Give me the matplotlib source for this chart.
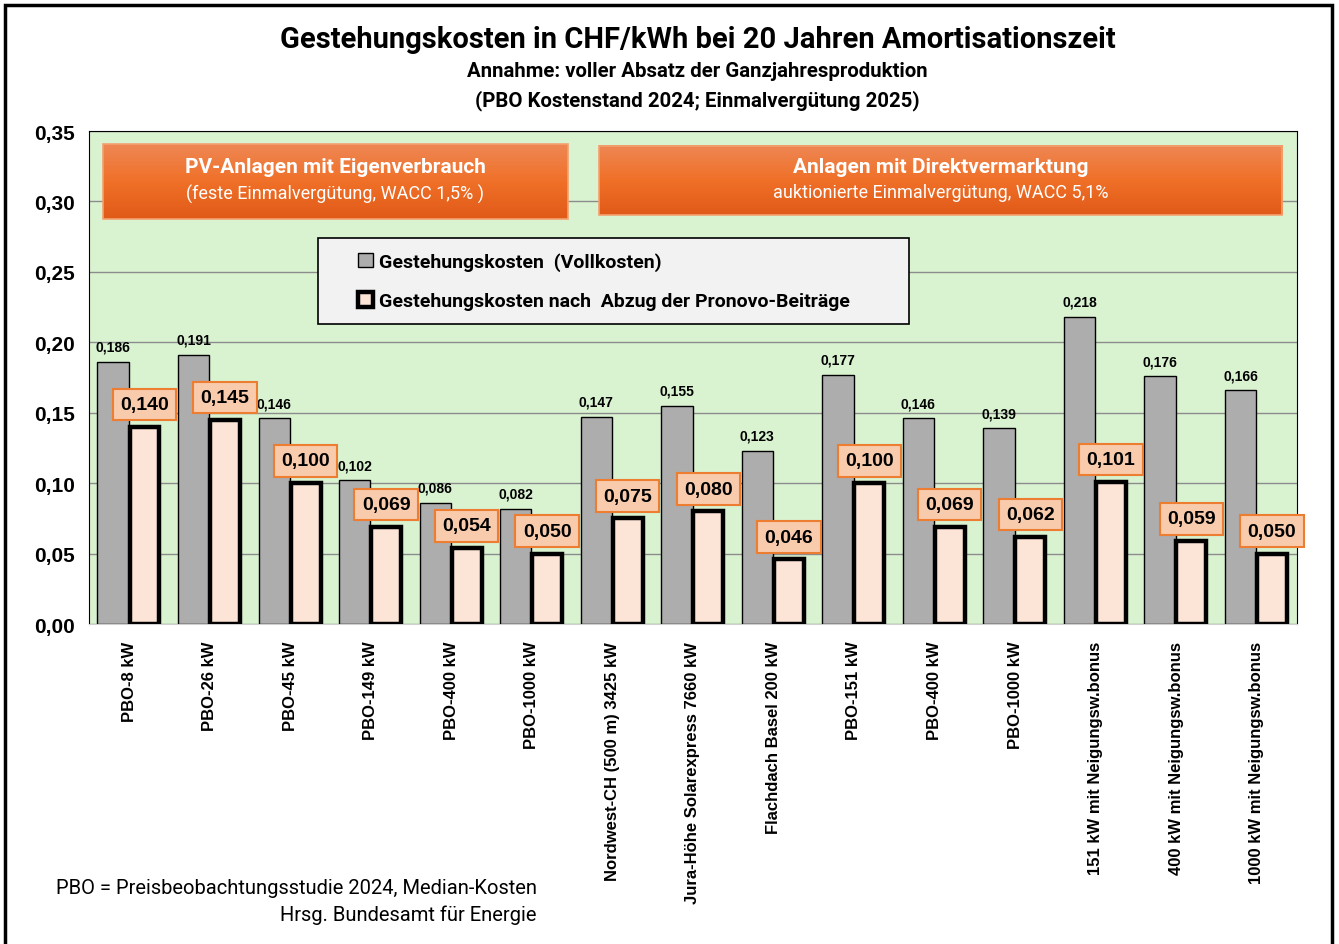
import numpy as np
import matplotlib
matplotlib.use("Agg")
import matplotlib.pyplot as plt
from matplotlib.patches import Rectangle
from matplotlib import font_manager

# Daten
kategorien = ["PBO-8 kW", "PBO-26 kW", "PBO-45 kW", "PBO-149 kW", "PBO-400 kW",
              "PBO-1000 kW", "Nordwest-CH (500 m) 3425 kW",
              "Jura-Höhe Solarexpress 7660 kW", "Flachdach Basel 200 kW",
              "PBO-151 kW", "PBO-400 kW", "PBO-1000 kW",
              "151 kW mit Neigungsw.bonus", "400 kW mit Neigungsw.bonus",
              "1000 kW mit Neigungsw.bonus"]
vollkosten = [0.186, 0.191, 0.146, 0.102, 0.086, 0.082, 0.147, 0.155, 0.123,
              0.177, 0.146, 0.139, 0.218, 0.176, 0.166]
nach_pronovo = [0.140, 0.145, 0.100, 0.069, 0.054, 0.050, 0.075, 0.080, 0.046,
                0.100, 0.069, 0.062, 0.101, 0.059, 0.050]
yticks = [0.00, 0.05, 0.10, 0.15, 0.20, 0.25, 0.30, 0.35]

# Schriften
installed = {f.name for f in font_manager.fontManager.ttflist}
narrow = 'Liberation Sans Narrow' if 'Liberation Sans Narrow' in installed else 'Roboto'
plt.rcParams['font.family'] = ['Liberation Sans', 'DejaVu Sans']


def fmt(v):
    return f"{v:.3f}".replace('.', ',')


fig = plt.figure(figsize=(13.39, 9.45), dpi=100)
ax = fig.add_axes([0.0665, 0.3386, 0.902, 0.5217])

x = np.arange(len(kategorien))
ax.bar(x - 0.2, vollkosten, 0.39, color='#ADADAD', edgecolor='black', lw=1,
       zorder=3, label='Gestehungskosten  (Vollkosten)')
ax.bar(x + 0.19, nach_pronovo, 0.37, color='#FCE4D6', edgecolor='black', lw=3.2,
       zorder=3, label='Gestehungskosten nach  Abzug der Pronovo-Beiträge')

ax.set_xlim(-0.5, len(kategorien) - 0.5)
ax.set_ylim(0, 0.35)
ax.set_facecolor('#D9F2D0')
ax.set_yticks(yticks)
ax.set_yticklabels([f"{t:.2f}".replace('.', ',') for t in yticks],
                   fontsize=15, fontweight='bold')
ax.set_xticks(x)
ax.set_xticklabels(kategorien, rotation=90, fontsize=12, fontweight='bold')
ax.tick_params(axis='y', length=0, pad=10)
ax.tick_params(axis='x', length=0, pad=12)
ax.grid(axis='y', color='#8C8C8C', lw=1, zorder=0)
for s in ['left', 'top', 'right']:
    ax.spines[s].set_color('black')
ax.spines['bottom'].set_color('#D0D0D0')

# Werte
for xi, v in zip(x, vollkosten):
    ax.annotate(fmt(v), (xi - 0.2, v), xytext=(0, 8), textcoords='offset points',
                ha='center', va='baseline', fontsize=10, fontweight='bold', zorder=5)
for xi, v in zip(x, nach_pronovo):
    ax.annotate(fmt(v), (xi + 0.19, v), xytext=(0, 16), textcoords='offset points',
                ha='center', va='center', fontsize=14, fontweight='bold', zorder=6,
                bbox=dict(boxstyle='square,pad=0.38', fc='#F8CBAD', ec='#ED7D31', lw=1.5))

# orange Kästen mit Verlauf (oben heller)
grad = np.linspace(0, 1, 100).reshape(-1, 1)
cmap = matplotlib.colors.LinearSegmentedColormap.from_list(
    'or', ['#EE8754', '#F07028', '#E05A18'])
for (x0, x1, y0, y1, t1, t2) in [
        (0.0116, 0.3965, 0.8215, 0.9736, 'PV-Anlagen mit Eigenverbrauch',
         '(feste Einmalvergütung, WACC 1,5% )'),
        (0.422, 0.9876, 0.8296, 0.9696, 'Anlagen mit Direktvermarktung',
         'auktionierte Einmalvergütung, WACC 5,1%')]:
    ax.imshow(grad, cmap=cmap, extent=[x0, x1, y0, y1], transform=ax.transAxes,
              origin='upper', aspect='auto', zorder=4)
    ax.add_patch(Rectangle((x0, y0), x1 - x0, y1 - y0, transform=ax.transAxes,
                           fill=False, ec='#F4A070', lw=1.2, zorder=4))
    xm = (x0 + x1) / 2
    ax.text(xm, y1 - 0.30 * (y1 - y0), t1, transform=ax.transAxes, ha='center',
            va='center', color='white', fontsize=15, fontweight='bold',
            family=[narrow, 'DejaVu Sans'], zorder=5)
    ax.text(xm, y1 - 0.66 * (y1 - y0), t2, transform=ax.transAxes, ha='center',
            va='center', color='white', fontsize=13,
            family=[narrow, 'DejaVu Sans'], zorder=5)

# Legende
ax.add_patch(Rectangle((0.1896, 0.6085), 0.4893, 0.1745, transform=ax.transAxes,
                       fc='#F2F2F2', ec='black', lw=1.2, zorder=4))
leg = ax.legend(loc='upper left', bbox_to_anchor=(0.208, 0.79), frameon=False,
                handlelength=0.8, handleheight=0.8, handletextpad=0.3,
                labelspacing=1.1, prop={'family': [narrow, 'DejaVu Sans'],
                                         'weight': 'bold', 'size': 14})
leg.set_zorder(6)

# Titel
fig.text(0.521, 0.958, 'Gestehungskosten in CHF/kWh bei 20 Jahren Amortisationszeit',
         ha='center', va='center', fontsize=21, fontweight='bold',
         family=[narrow, 'DejaVu Sans'])
fig.text(0.521, 0.924, 'Annahme: voller Absatz der Ganzjahresproduktion',
         ha='center', va='center', fontsize=14.7, fontweight='bold',
         family=[narrow, 'DejaVu Sans'])
fig.text(0.521, 0.894, '(PBO Kostenstand 2024; Einmalvergütung 2025)',
         ha='center', va='center', fontsize=14.7, fontweight='bold',
         family=[narrow, 'DejaVu Sans'])

# Fussnote
fig.text(0.401, 0.060, 'PBO = Preisbeobachtungsstudie 2024, Median-Kosten',
         ha='right', va='center', fontsize=14.5, family=[narrow, 'DejaVu Sans'])
fig.text(0.401, 0.031, 'Hrsg. Bundesamt für Energie',
         ha='right', va='center', fontsize=14.5, family=[narrow, 'DejaVu Sans'])

# Rahmen
fig.add_artist(Rectangle((0.004, -0.01), 0.991, 1.004, transform=fig.transFigure,
                         fill=False, ec='black', lw=2.5))

fig.savefig('out.png', dpi=100)
